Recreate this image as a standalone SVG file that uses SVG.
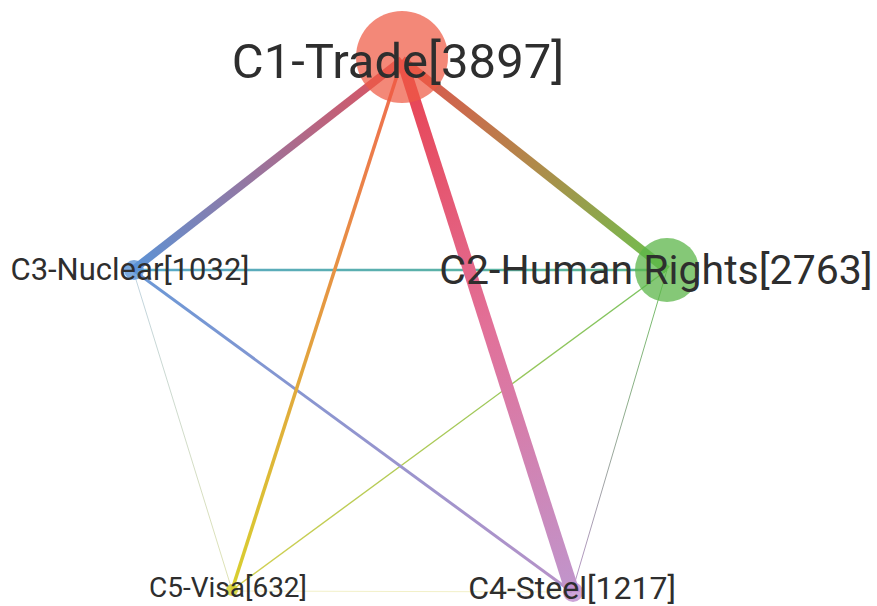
<svg xmlns="http://www.w3.org/2000/svg" width="877" height="606" viewBox="0 0 877 606">
<style>
.lbl{font-family:Roboto,"Liberation Sans",sans-serif;fill:#2e2e2e;text-anchor:middle}
.e{fill:none;stroke-linecap:butt}
</style>
<defs>
<linearGradient id="g13" gradientUnits="userSpaceOnUse" x1="402" y1="60" x2="133" y2="270"><stop offset="0" stop-color="#e2505a"/><stop offset="1" stop-color="#5b93d6"/></linearGradient>
<linearGradient id="g12" gradientUnits="userSpaceOnUse" x1="402" y1="60" x2="667" y2="270"><stop offset="0" stop-color="#e0504e"/><stop offset="0.5" stop-color="#b08a4a"/><stop offset="1" stop-color="#6cc24e"/></linearGradient>
<linearGradient id="g14" gradientUnits="userSpaceOnUse" x1="402" y1="60" x2="572" y2="592"><stop offset="0" stop-color="#e8404e"/><stop offset="0.5" stop-color="#e27098"/><stop offset="1" stop-color="#c095cc"/></linearGradient>
<linearGradient id="g15" gradientUnits="userSpaceOnUse" x1="402" y1="60" x2="232" y2="590"><stop offset="0" stop-color="#f06a50"/><stop offset="1" stop-color="#d8d030"/></linearGradient>
<linearGradient id="g32" gradientUnits="userSpaceOnUse" x1="133" y1="270" x2="667" y2="270"><stop offset="0" stop-color="#5aa8c8"/><stop offset="1" stop-color="#5ab890"/></linearGradient>
<linearGradient id="g34" gradientUnits="userSpaceOnUse" x1="133" y1="270" x2="572" y2="592"><stop offset="0" stop-color="#6a98d6"/><stop offset="1" stop-color="#b892c8"/></linearGradient>
<linearGradient id="g25" gradientUnits="userSpaceOnUse" x1="667" y1="270" x2="232" y2="590"><stop offset="0" stop-color="#78c260"/><stop offset="1" stop-color="#d6d050"/></linearGradient>
<linearGradient id="g24" gradientUnits="userSpaceOnUse" x1="667" y1="270" x2="572" y2="592"><stop offset="0" stop-color="#70c060"/><stop offset="1" stop-color="#b894c8"/></linearGradient>
<linearGradient id="g35" gradientUnits="userSpaceOnUse" x1="133" y1="270" x2="232" y2="590"><stop offset="0" stop-color="#b0c8d8"/><stop offset="1" stop-color="#d8dca0"/></linearGradient>
</defs>
<g id="connectors">
<line class="e" x1="232" y1="591" x2="572" y2="592" stroke="#f2f0c8" stroke-width="1"/>
<line class="e" x1="133" y1="270" x2="232" y2="590" stroke="url(#g35)" stroke-width="0.8"/>
<line class="e" x1="667" y1="270" x2="572" y2="592" stroke="url(#g24)" stroke-width="1"/>
<line class="e" x1="667" y1="270" x2="232" y2="590" stroke="url(#g25)" stroke-width="1.4"/>
<line class="e" x1="133" y1="270" x2="572" y2="592" stroke="url(#g34)" stroke-width="3"/>
<line class="e" x1="133" y1="270" x2="667" y2="270" stroke="url(#g32)" stroke-width="2.5"/>
<line class="e" x1="402" y1="60" x2="232" y2="590" stroke="url(#g15)" stroke-width="3.5"/>
<line class="e" x1="402" y1="60" x2="133" y2="270" stroke="url(#g13)" stroke-width="8"/>
<line class="e" x1="402" y1="60" x2="667" y2="270" stroke="url(#g12)" stroke-width="9"/>
<polygon points="396,60 408,60 580,592 565,592" fill="url(#g14)"/>
</g>
<g id="C1">
<circle cx="402" cy="57" r="46" fill="#ee5a44" fill-opacity="0.72"/>
<text class="lbl" x="398" y="78" font-size="49">C1-Trade[3897]</text>
</g>
<g id="C2">
<circle cx="667" cy="270" r="32" fill="#5cb54a" fill-opacity="0.75"/>
<text class="lbl" x="656" y="284" font-size="41">C2-Human Rights[2763]</text>
</g>
<g id="C3">
<circle cx="134" cy="270" r="10" fill="#5b93d6" fill-opacity="0.8"/>
<text class="lbl" x="130" y="280" font-size="31">C3-Nuclear[1032]</text>
</g>
<g id="C4">
<circle cx="573" cy="592" r="10" fill="#c08fd0" fill-opacity="0.8"/>
<text class="lbl" x="572" y="599" font-size="32">C4-Steel[1217]</text>
</g>
<g id="C5">
<circle cx="232" cy="590" r="6" fill="#d6d030" fill-opacity="0.85"/>
<text class="lbl" x="228" y="597" font-size="28">C5-Visa[632]</text>
</g>
</svg>
